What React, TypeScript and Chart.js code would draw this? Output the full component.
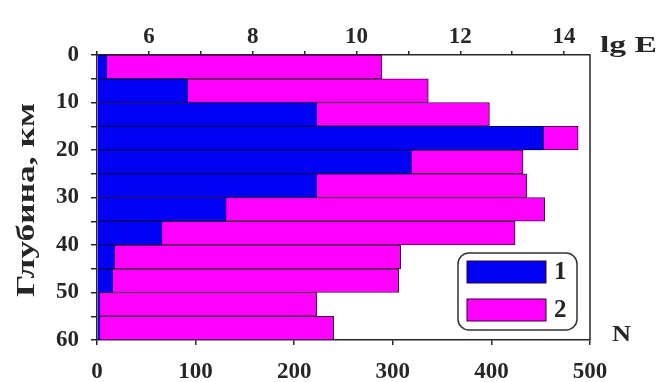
import React, { useEffect, useRef } from "react";
import { Chart, registerables } from "chart.js";

Chart.register(...registerables);

// Depth bins (top of each 5 km bin), km
const depthBinStart = [0, 5, 10, 15, 20, 25, 30, 35, 40, 45, 50, 55];
const binWidth = 5;
// Series 1 (blue) and series 2 (magenta), N
const series1 = [10, 92, 223, 453, 319, 223, 131, 66, 18, 16, 3, 3];
const series2 = [289, 336, 398, 488, 432, 436, 454, 424, 308, 306, 223, 240];
// Top axis (lg E) tick values
const topTicks = [5, 6, 7, 8, 9, 10, 11, 12, 13, 14];
const legendLabels = ["1", "2"];
const yTitle = "Глубина, км";
const topAxisTitle = "lg E";
const bottomAxisTitle = "N";

const BLUE = "#0000f2";
const MAGENTA = "#ff00ff";
const INK = "#262626";
const FONT = "'Liberation Serif', 'DejaVu Serif', serif";

const overlayPlugin = {
  id: "overlay",
  afterDraw(chart: any) {
    const ctx = chart.ctx as CanvasRenderingContext2D;
    const a = chart.chartArea;
    ctx.save();
    // right frame line
    ctx.strokeStyle = INK;
    ctx.lineWidth = 1.5;
    ctx.beginPath();
    ctx.moveTo(a.right, a.top);
    ctx.lineTo(a.right, a.bottom);
    ctx.stroke();

    // legend box
    const lx = a.right - 132, ly = a.bottom - 87, lw = 119, lh = 77;
    ctx.lineWidth = 1.5;
    ctx.strokeStyle = "#333";
    ctx.fillStyle = "#fff";
    ctx.beginPath();
    (ctx as any).roundRect(lx, ly, lw, lh, 11);
    ctx.fill();
    ctx.stroke();
    const colors = [BLUE, MAGENTA];
    ctx.font = `bold 25px ${FONT}`;
    ctx.textBaseline = "middle";
    ctx.textAlign = "left";
    colors.forEach((c, i) => {
      const sy = ly + 8 + i * 38;
      ctx.fillStyle = c;
      ctx.fillRect(lx + 9, sy, 79, 22);
      ctx.strokeStyle = "#300030";
      ctx.lineWidth = 1;
      ctx.strokeRect(lx + 9, sy, 79, 22);
      ctx.fillStyle = INK;
      ctx.fillText(legendLabels[i], lx + 96, sy + 12);
    });

    // axis names
    ctx.fillStyle = INK;
    ctx.font = `bold 23px ${FONT}`;
    ctx.textAlign = "left";
    ctx.save();
    ctx.translate(a.right + 10, 46);
    const wE = ctx.measureText(topAxisTitle).width;
    ctx.scale(57 / wE, 1);
    ctx.fillText(topAxisTitle, 0, 0);
    ctx.restore();
    ctx.save();
    ctx.translate(a.right + 22, a.bottom - 5);
    const wN = ctx.measureText(bottomAxisTitle).width;
    ctx.scale(19 / wN, 1);
    ctx.fillText(bottomAxisTitle, 0, 0);
    ctx.restore();

    // y title (rotated)
    ctx.save();
    ctx.font = `bold 25px ${FONT}`;
    ctx.textAlign = "center";
    ctx.translate(28, 200);
    ctx.rotate(-Math.PI / 2);
    const wT = ctx.measureText(yTitle).width;
    ctx.scale(194 / wT, 1);
    ctx.fillText(yTitle, 0, 0);
    ctx.restore();
    ctx.restore();
  },
};

export default function App() {
  const ref = useRef<HTMLCanvasElement | null>(null);
  useEffect(() => {
    if (!ref.current) return;
    const centers = depthBinStart.map((d) => d + binWidth / 2);
    const tickFont = { family: FONT, size: 23, weight: "bold" as const };
    const chart = new Chart(ref.current, {
      type: "bar",
      data: {
        datasets: [
          {
            label: legendLabels[0],
            data: series1.map((v, i) => ({ x: v, y: centers[i] })),
            backgroundColor: BLUE,
            borderColor: "#000070",
            borderWidth: 1,
            grouped: false,
            barPercentage: 1,
            categoryPercentage: 1,
          },
          {
            label: legendLabels[1],
            data: series2.map((v, i) => ({ x: v, y: centers[i] })),
            backgroundColor: MAGENTA,
            borderColor: "#4a004a",
            borderWidth: 1,
            grouped: false,
            barPercentage: 1,
            categoryPercentage: 1,
          },
        ] as any,
      },
      options: {
        indexAxis: "y",
        responsive: false,
        animation: false,
        layout: { padding: { left: 0, right: 68, top: 0, bottom: 0 } },
        plugins: { legend: { display: false }, tooltip: { enabled: false } },
        scales: {
          y: {
            type: "linear",
            reverse: true,
            offset: false,
            min: 0,
            max: 60,
            afterFit: (s: any) => { s.width = 97; s.paddingTop = 0; s.paddingBottom = 0; },
            ticks: {
              stepSize: 5,
              autoSkip: false,
              color: INK,
              font: tickFont,
              padding: 12,
              callback: (v: any) => (Number(v) % 10 === 0 ? String(v) : ""),
            },
            grid: { offset: false, drawOnChartArea: false, drawTicks: true, tickLength: 6, color: INK, lineWidth: 1.5 },
            border: { display: true, color: INK, width: 1.5 },
          },
          x: {
            type: "linear",
            position: "bottom",
            offset: false,
            min: 0,
            max: 500,
            afterFit: (s: any) => { s.height = 42; },
            ticks: { stepSize: 100, autoSkip: false, color: INK, font: tickFont, padding: 13 },
            grid: { drawOnChartArea: false, drawTicks: true, tickLength: 5, color: INK, lineWidth: 1.5 },
            border: { display: true, color: INK, width: 1.5 },
          },
          x2: {
            type: "linear",
            position: "top",
            offset: false,
            min: 5,
            max: 14.5,
            afterBuildTicks: (s: any) => { s.ticks = topTicks.map((v) => ({ value: v })); },
            afterFit: (s: any) => { s.height = 55; },
            ticks: {
              autoSkip: false,
              maxRotation: 0,
              color: INK,
              font: tickFont,
              padding: 0,
              callback: (v: any) => (Number(v) % 2 === 0 ? String(v) : ""),
            },
            grid: { drawOnChartArea: false, drawTicks: true, tickLength: 4, color: INK, lineWidth: 1.5 },
            border: { display: true, color: INK, width: 1.5 },
          },
        },
      } as any,
      plugins: [overlayPlugin],
    });
    return () => chart.destroy();
  }, []);
  return (
    <div style={{ position: "absolute", left: 0, top: 0, width: 658, height: 382, background: "#fff" }}>
      <canvas ref={ref} width={658} height={382} style={{ display: "block" }} />
    </div>
  );
}
